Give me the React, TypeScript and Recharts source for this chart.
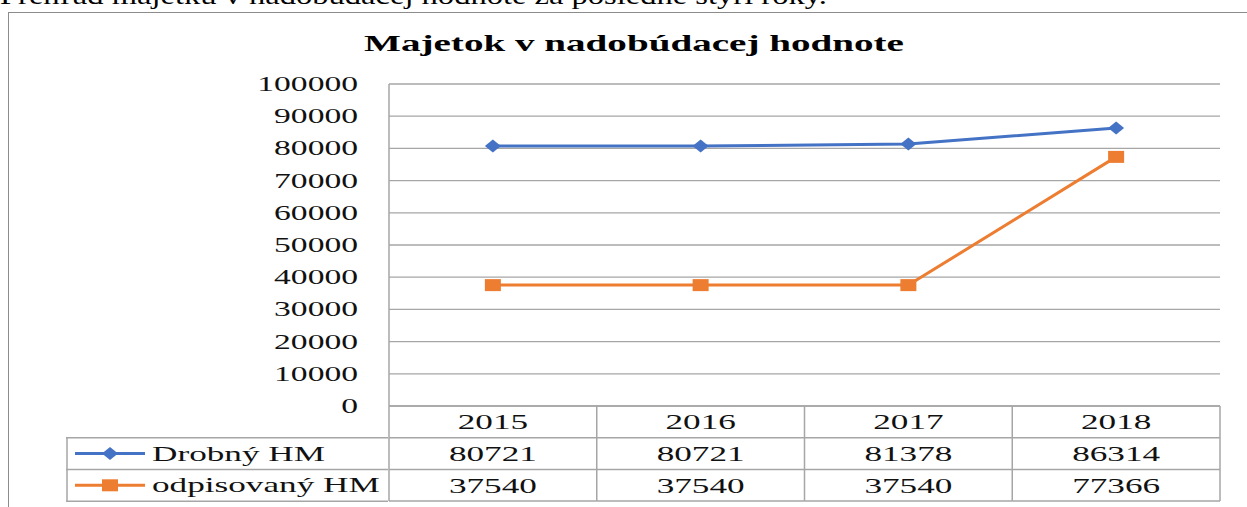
import React from "react";
import {
  LineChart,
  Line,
  XAxis,
  YAxis,
  CartesianGrid,
  Legend,
} from "recharts";

const years = ["2015", "2016", "2017", "2018"];
const drobnyHM = [80721, 80721, 81378, 86314];
const odpisovanyHM = [37540, 37540, 37540, 77366];
const yTicks = [0, 10000, 20000, 30000, 40000, 50000, 60000, 70000, 80000, 90000, 100000];
const seriesNames = ["Drobný HM", "odpisovaný HM"];
const seriesColors = ["#4472C4", "#ED7D31"];

const rows = years.map((year, i) => ({
  year,
  drobny: drobnyHM[i],
  odpisovany: odpisovanyHM[i],
}));

const W = 1247;
const H = 507;
const PLOT_LEFT = 389;
const PLOT_RIGHT = 1220;
const PLOT_TOP = 84;
const PLOT_BOTTOM = 406;
const ROW_H = 31.7;
const BAND = (PLOT_RIGHT - PLOT_LEFT) / years.length;
const LINE_GRAY = "#a6a6a6";
const FONT = "'Liberation Serif', 'Times New Roman', serif";
const SX = 1.6;

function Stretched({ x, y, size, anchor = "start", bold = false, children }: any) {
  return (
    <g transform={`translate(${x},${y}) scale(${SX},1)`}>
      <text
        x={0}
        y={0}
        textAnchor={anchor}
        fontFamily={FONT}
        fontSize={size}
        fontWeight={bold ? 700 : 400}
        fill="#111"
      >
        {children}
      </text>
    </g>
  );
}

function YTick({ x, y, payload }: any) {
  return (
    <Stretched x={PLOT_LEFT - 31} y={y + 7} size={21} anchor="end">
      {payload.value}
    </Stretched>
  );
}

// data table under the plot, one column per category tick
function TableTick({ x, y, payload }: any) {
  const i = payload.index;
  const left = x - BAND / 2;
  const right = x + BAND / 2;
  const values = [drobnyHM[i], odpisovanyHM[i]];
  return (
    <g>
      {i === 0 && (
        <line x1={left} x2={left} y1={y} y2={y + ROW_H * 3} stroke={LINE_GRAY} strokeWidth={1.5} />
      )}
      <line x1={right} x2={right} y1={y} y2={y + ROW_H * 3} stroke={LINE_GRAY} strokeWidth={1.5} />
      {[1, 2, 3].map((r) => (
        <line key={r} x1={left} x2={right} y1={y + ROW_H * r} y2={y + ROW_H * r} stroke={LINE_GRAY} strokeWidth={1.5} />
      ))}
      <Stretched x={x} y={y + ROW_H / 2 + 7.5} size={22} anchor="middle">
        {payload.value}
      </Stretched>
      {values.map((v, r) => (
        <Stretched key={r} x={x} y={y + ROW_H * (r + 1.5) + 7.5} size={22} anchor="middle">
          {v}
        </Stretched>
      ))}
    </g>
  );
}

function Diamond({ cx, cy, fill }: any) {
  if (cx == null || cy == null) return null;
  return (
    <polygon
      points={`${cx - 8},${cy} ${cx},${cy - 6.5} ${cx + 8},${cy} ${cx},${cy + 6.5}`}
      fill={fill}
    />
  );
}

function Square({ cx, cy, fill }: any) {
  if (cx == null || cy == null) return null;
  return <rect x={cx - 8} y={cy - 6} width={16} height={12} fill={fill} />;
}

function TableLegend({ payload }: any) {
  const w = PLOT_LEFT - 67;
  return (
    <svg width={w + 2} height={ROW_H * 2 + 2} style={{ display: "block" }}>
      <line x1={1} x2={1} y1={0} y2={ROW_H * 2 + 1} stroke={LINE_GRAY} strokeWidth={1.5} />
      {[0, 1, 2].map((r) => (
        <line key={r} x1={0} x2={w} y1={r * ROW_H + 0.75} y2={r * ROW_H + 0.75} stroke={LINE_GRAY} strokeWidth={1.5} />
      ))}
      {(payload || []).map((item: any, i: number) => {
        const cy = ROW_H * (i + 0.5) + 0.75;
        return (
          <g key={i}>
            <line x1={9} x2={79} y1={cy} y2={cy} stroke={item.color} strokeWidth={3} />
            {i === 0 ? (
              <Diamond cx={44} cy={cy} fill={item.color} />
            ) : (
              <Square cx={44} cy={cy} fill={item.color} />
            )}
            <Stretched x={86} y={cy + 7} size={22}>
              {item.value}
            </Stretched>
          </g>
        );
      })}
    </svg>
  );
}

export default function App() {
  return (
    <div style={{ position: "absolute", left: 0, top: 0, width: W, height: H, overflow: "hidden", background: "#fff" }}>
      <svg width={W} height={40} style={{ position: "absolute", left: 0, top: 0 }}>
        <text
          x={0}
          y={4}
          fontFamily={FONT}
          fontSize={25}
          textLength={827}
          lengthAdjust="spacingAndGlyphs"
          fill="#000"
        >
          Prehľad majetku v nadobúdacej hodnote za posledné štyri roky.
        </text>
      </svg>
      <div
        style={{
          position: "absolute",
          left: 8,
          top: 12,
          width: W + 20,
          height: H + 20,
          border: "1.5px solid #8c8c8c",
        }}
      />
      <div style={{ position: "absolute", left: 0, top: 0 }}>
        <LineChart
          width={W}
          height={H}
          data={rows}
          margin={{ top: PLOT_TOP, right: W - PLOT_RIGHT, bottom: 6, left: 0 }}
        >
          <text
            x={634}
            y={51}
            textAnchor="middle"
            fontFamily={FONT}
            fontSize={23}
            fontWeight={700}
            textLength={540}
            lengthAdjust="spacingAndGlyphs"
            fill="#000"
          >
            Majetok v nadobúdacej hodnote
          </text>
          <CartesianGrid vertical={false} stroke={LINE_GRAY} strokeWidth={1.3} />
          <XAxis
            dataKey="year"
            height={H - 6 - PLOT_BOTTOM}
            padding={{ left: BAND / 2, right: BAND / 2 }}
            tickLine={false}
            tickSize={0}
            tickMargin={0}
            axisLine={{ stroke: LINE_GRAY, strokeWidth: 1.5 }}
            tick={<TableTick />}
            interval={0}
          />
          <YAxis
            width={PLOT_LEFT}
            domain={[0, 100000]}
            ticks={yTicks}
            tickLine={false}
            axisLine={{ stroke: LINE_GRAY, strokeWidth: 1.5 }}
            tick={<YTick />}
            interval={0}
          />
          <Legend
            layout="horizontal"
            verticalAlign="middle"
            content={<TableLegend />}
            wrapperStyle={{ position: "absolute", left: 66, top: PLOT_BOTTOM + ROW_H - 0.75, width: PLOT_LEFT - 66, height: ROW_H * 2 + 2 }}
          />
          <Line
            type="linear"
            dataKey="drobny"
            name={seriesNames[0]}
            stroke={seriesColors[0]}
            strokeWidth={3}
            legendType="diamond"
            dot={<Diamond fill={seriesColors[0]} />}
            activeDot={false}
            isAnimationActive={false}
          />
          <Line
            type="linear"
            dataKey="odpisovany"
            name={seriesNames[1]}
            stroke={seriesColors[1]}
            strokeWidth={3}
            legendType="square"
            dot={<Square fill={seriesColors[1]} />}
            activeDot={false}
            isAnimationActive={false}
          />
        </LineChart>
      </div>
    </div>
  );
}
